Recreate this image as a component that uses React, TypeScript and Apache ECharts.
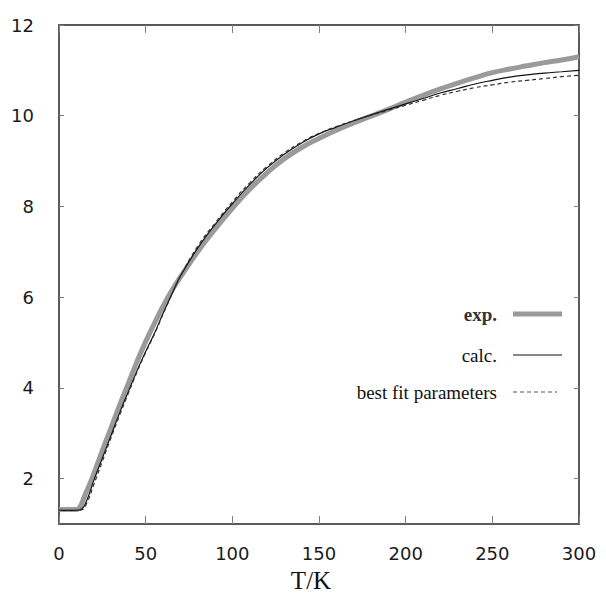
import React, { useEffect, useRef } from "react";
import * as echarts from "echarts";

const xTicks = [0, 50, 100, 150, 200, 250, 300];
const yTicks = [2, 4, 6, 8, 10, 12];

const expData: [number, number][] = [
  [0, 1.32], [5, 1.32], [10, 1.32], [12, 1.37], [15, 1.64], [19, 2.0], [25, 2.62], [30, 3.12],
  [36, 3.72], [40, 4.1], [45, 4.58], [50, 5.02], [55, 5.42], [60, 5.8], [65, 6.14], [70, 6.44],
  [80, 7.0], [90, 7.5], [100, 7.96], [110, 8.38], [120, 8.74], [130, 9.05], [140, 9.3],
  [150, 9.5], [160, 9.68], [170, 9.84], [180, 9.99], [190, 10.14], [200, 10.3], [210, 10.45],
  [220, 10.59], [230, 10.72], [240, 10.84], [250, 10.95], [260, 11.03], [270, 11.1], [280, 11.17],
  [290, 11.23], [300, 11.3],
];

const calcData: [number, number][] = [
  [0, 1.3], [10, 1.3], [13, 1.33], [16, 1.52], [20, 1.95], [25, 2.45], [30, 2.95], [35, 3.45],
  [40, 3.92], [45, 4.38], [50, 4.8], [55, 5.2], [60, 5.64], [65, 6.06], [70, 6.46], [80, 7.08],
  [90, 7.6], [100, 8.06], [110, 8.48], [120, 8.85], [130, 9.15], [140, 9.4], [150, 9.6],
  [160, 9.75], [170, 9.89], [180, 10.02], [190, 10.14], [200, 10.26], [210, 10.38], [220, 10.5],
  [230, 10.6], [240, 10.7], [250, 10.78], [260, 10.85], [270, 10.9], [280, 10.94], [290, 10.97],
  [300, 11.0],
];

const fitData: [number, number][] = [
  [0, 1.3], [10, 1.3], [13, 1.31], [16, 1.46], [20, 1.86], [25, 2.38], [30, 2.9], [35, 3.4],
  [40, 3.88], [45, 4.35], [50, 4.78], [55, 5.18], [60, 5.62], [65, 6.05], [70, 6.46], [80, 7.12],
  [90, 7.63], [100, 8.1], [110, 8.52], [120, 8.88], [130, 9.18], [140, 9.42], [150, 9.61],
  [160, 9.76], [170, 9.89], [180, 10.01], [190, 10.12], [200, 10.23], [210, 10.34], [220, 10.45],
  [230, 10.54], [240, 10.62], [250, 10.68], [260, 10.74], [270, 10.78], [280, 10.82], [290, 10.86],
  [300, 10.89],
];

const legendLabels = ["exp.", "calc.", "best fit parameters"];

export default function App() {
  const ref = useRef<HTMLDivElement>(null);
  useEffect(() => {
    document.body.style.margin = "0";
    const chart = echarts.init(ref.current!, null, { renderer: "svg" });
    const frameColor = "#5a5a5a";
    const tickColor = "#808080";
    const labelFont = { fontFamily: "DejaVu Sans", fontSize: 18, color: "#1a1a1a" };
    const legendY = [314, 355, 392];
    chart.setOption({
      animation: false,
      backgroundColor: "#ffffff",
      grid: { left: 59, right: 27, top: 25, bottom: 77, containLabel: false, outerBoundsMode: "none" },
      xAxis: [
        {
          type: "value", min: 0, max: 300, interval: 50, position: "bottom",
          axisLine: { show: true, onZero: false, lineStyle: { color: frameColor, width: 2 } },
          axisTick: { show: true, inside: true, length: 8, lineStyle: { color: tickColor, width: 1 } },
          axisLabel: { ...labelFont, margin: 20, customValues: xTicks },
          splitLine: { show: false },
        },
        {
          type: "value", min: 0, max: 300, interval: 50, position: "top",
          axisLine: { show: true, onZero: false, lineStyle: { color: frameColor, width: 2 } },
          axisTick: { show: true, inside: true, length: 8, lineStyle: { color: tickColor, width: 1 } },
          axisLabel: { show: false },
          splitLine: { show: false },
        },
      ],
      yAxis: [
        {
          type: "value", min: 1, max: 12, position: "left",
          axisLine: { show: true, onZero: false, lineStyle: { color: frameColor, width: 2 } },
          axisTick: { show: true, inside: true, length: 5, customValues: yTicks, lineStyle: { color: tickColor, width: 1 } },
          axisLabel: { ...labelFont, margin: 25, customValues: yTicks },
          splitLine: { show: false },
        },
        {
          type: "value", min: 1, max: 12, position: "right",
          axisLine: { show: true, onZero: false, lineStyle: { color: frameColor, width: 2 } },
          axisTick: { show: true, inside: true, length: 5, customValues: yTicks, lineStyle: { color: tickColor, width: 1 } },
          axisLabel: { show: false },
          splitLine: { show: false },
        },
      ],
      series: [
        {
          name: legendLabels[0], type: "line", data: expData, smooth: true, showSymbol: false,
          lineStyle: { color: "#9a9a9a", width: 5 }, z: 2,
        },
        {
          name: legendLabels[1], type: "line", data: calcData, smooth: true, showSymbol: false,
          lineStyle: { color: "#111111", width: 1.2 }, z: 3,
        },
        {
          name: legendLabels[2], type: "line", data: fitData, smooth: true, showSymbol: false,
          lineStyle: { color: "#333333", width: 1.2, type: [4, 3] }, z: 3,
        },
      ],
      graphic: [
        {
          type: "text", x: 311, y: 580,
          style: { text: "T/K", font: "25px 'Liberation Serif'", fill: "#111", textAlign: "center", textVerticalAlign: "middle" },
        },
        {
          type: "text", x: 497, y: legendY[0],
          style: { text: legendLabels[0], font: "bold 19px 'Liberation Serif'", fill: "#333", textAlign: "right", textVerticalAlign: "middle" },
        },
        {
          type: "text", x: 497, y: legendY[1],
          style: { text: legendLabels[1], font: "19px 'Liberation Serif'", fill: "#111", textAlign: "right", textVerticalAlign: "middle" },
        },
        {
          type: "text", x: 497, y: legendY[2],
          style: { text: legendLabels[2], font: "19px 'Liberation Serif'", fill: "#111", textAlign: "right", textVerticalAlign: "middle" },
        },
        {
          type: "line", shape: { x1: 513, y1: legendY[0], x2: 562, y2: legendY[0] },
          style: { stroke: "#9a9a9a", lineWidth: 5 },
        },
        {
          type: "line", shape: { x1: 513, y1: legendY[1], x2: 562, y2: legendY[1] },
          style: { stroke: "#111111", lineWidth: 1.2 },
        },
        {
          type: "line", shape: { x1: 513, y1: legendY[2], x2: 557, y2: legendY[2] },
          style: { stroke: "#555555", lineWidth: 1.2, lineDash: [4, 3] },
        },
      ],
    });
    return () => chart.dispose();
  }, []);
  return <div ref={ref} style={{ position: "fixed", left: 0, top: 0, width: 606, height: 601 }} />;
}
